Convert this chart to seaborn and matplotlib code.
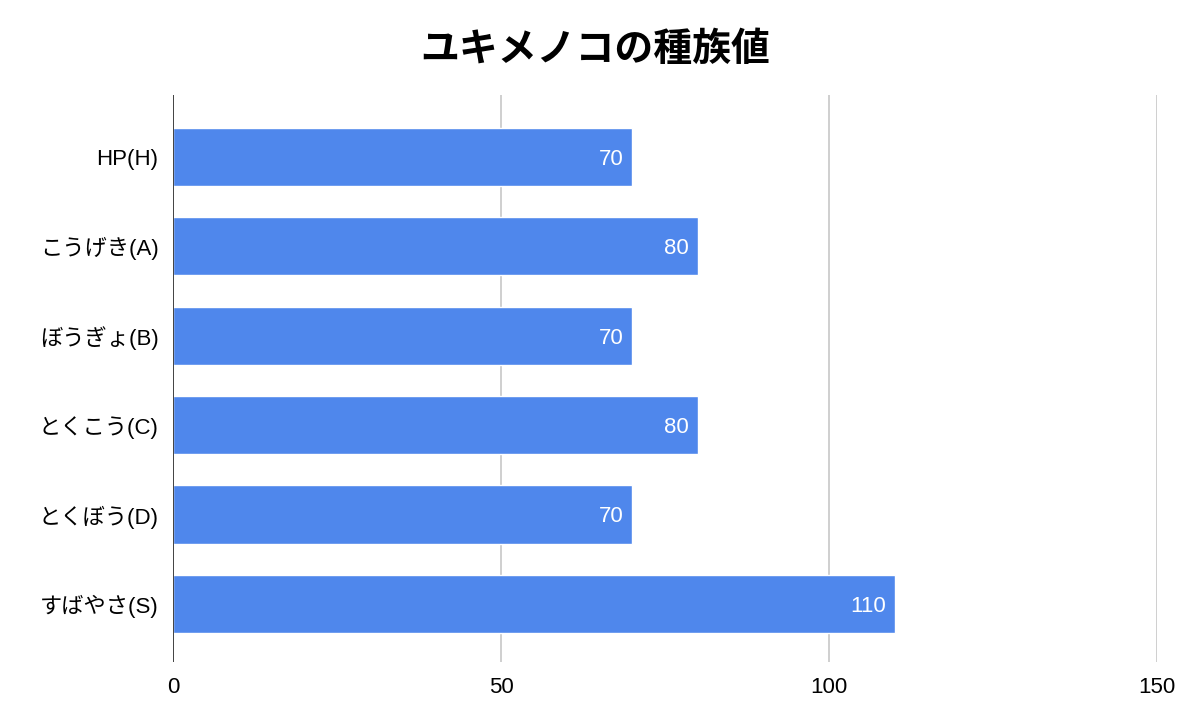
import matplotlib
matplotlib.use("Agg")
import matplotlib.pyplot as plt
import pandas as pd
import seaborn as sns

# Données
categories = ["HP(H)", "こうげき(A)", "ぼうぎょ(B)", "とくこう(C)", "とくぼう(D)", "すばやさ(S)"]
values = [70, 80, 70, 80, 70, 110]
x_ticks = [0, 50, 100, 150]
title = "ユキメノコの種族値"

sns.set_theme(style="white")
plt.rcParams["font.family"] = ["Liberation Sans", "Noto Sans CJK JP", "DejaVu Sans"]

df = pd.DataFrame({"stat": categories, "value": values})

fig = plt.figure(figsize=(11.91, 7.24), dpi=100)
ax = fig.add_axes([0.1453, 0.0856, 0.8261, 0.7832])

sns.barplot(data=df, x="value", y="stat", color="#4f87ec", saturation=1,
            width=0.65, ax=ax)

ax.set_xlim(0, 150)
ax.set_ylim(5.65, -0.69)
ax.set_xticks(x_ticks)
ax.set_xticklabels([str(t) for t in x_ticks])
ax.set_xlabel("")
ax.set_ylabel("")

# Grille verticale grise, axe 0 en noir
ax.grid(False)
for t in x_ticks[1:]:
    ax.axvline(t, color="#cccccc", lw=1.3, zorder=0)
ax.axvline(0, color="#333333", lw=1.3, zorder=3)
for s in ax.spines.values():
    s.set_visible(False)

ax.tick_params(axis="both", length=0, labelsize=16, colors="black")
ax.tick_params(axis="y", pad=10.5)
ax.tick_params(axis="x", pad=11)

# Étiquettes de valeur à l'intérieur des barres, alignées à droite
for cont in ax.containers:
    texts = ax.bar_label(cont, labels=[str(v) for v in values], padding=-6.5,
                         color="white", fontsize=16)
    for t in texts:
        t.set_ha("right")
        t.set_va("center_baseline")

fig.text(0.5, 0.931, title, ha="center", va="center", fontsize=28,
         fontweight="bold", color="black",
         family=["Noto Sans CJK JP", "DejaVu Sans"])

fig.savefig("out.png", dpi=100)
